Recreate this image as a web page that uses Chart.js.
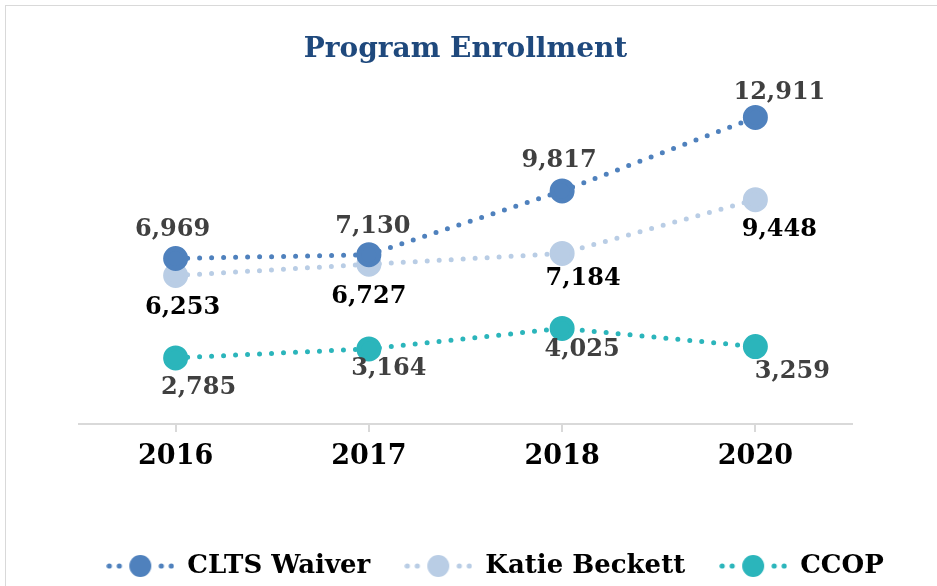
<!DOCTYPE html>
<html>
<head>
<meta charset="utf-8">
<script src="https://cdn.jsdelivr.net/npm/chart.js@4.4.0/dist/chart.umd.min.js"></script>
<style>
  html, body { margin: 0; padding: 0; background: #fff; }
  #wrap { position: relative; width: 937px; height: 586px; overflow: hidden; }
  #frame { position: absolute; left: 5px; top: 5px; width: 940px; height: 590px; border: 1px solid #d9d9d9; }
  canvas { position: absolute; left: 0; top: 0; }
</style>
</head>
<body>
<div id="wrap"><div id="frame"></div><canvas id="enrollChart" width="937" height="586"></canvas></div>
<script>
const years = ['2016', '2017', '2018', '2020'];
const cltsWaiver = [6969, 7130, 9817, 12911];
const katieBeckett = [6253, 6727, 7184, 9448];
const ccop = [2785, 3164, 4025, 3259];

// where each value label sits relative to its point (dx, dy)
const cltsLabelPos = [[-3, -29], [4, -28], [-3, -30], [24, -25]];
const katieLabelPos = [[7, 32], [0, 32], [21, 25], [24, 30]];
const ccopLabelPos = [[23, 30], [20, 20], [20, 21], [37, 25]];

const serif = '"DejaVu Serif", serif';

function legendMarker(color) {
    const c = document.createElement('canvas');
    c.width = 68;
    c.height = 24;
    const g = c.getContext('2d');
    g.fillStyle = color;
    [3, 13, 55, 65].forEach(x => {
        g.beginPath();
        g.arc(x, 12, 2.6, 0, Math.PI * 2);
        g.fill();
    });
    g.beginPath();
    g.arc(34, 12, 11, 0, Math.PI * 2);
    g.fill();
    return c;
}

const valueLabels = {
    id: 'valueLabels',
    afterDatasetsDraw(chart) {
        const ctx = chart.ctx;
        ctx.save();
        ctx.font = 'bold 24px ' + serif;
        ctx.textAlign = 'center';
        ctx.textBaseline = 'middle';
        chart.data.datasets.forEach((ds, i) => {
            const meta = chart.getDatasetMeta(i);
            meta.data.forEach((pt, j) => {
                const off = ds.labelPos[j];
                ctx.fillStyle = ds.labelColor;
                ctx.fillText(ds.data[j].toLocaleString('en-US'), pt.x + off[0], pt.y + off[1]);
            });
        });
        ctx.restore();
    }
};

function lineSet(label, data, color, labelColor, labelPos) {
    return {
        label: label,
        data: data,
        borderColor: color,
        backgroundColor: color,
        pointBackgroundColor: color,
        pointBorderColor: color,
        borderWidth: 5,
        borderDash: [0, 12],
        borderCapStyle: 'round',
        pointRadius: 10,
        pointHoverRadius: 10,
        fill: false,
        tension: 0,
        labelColor: labelColor,
        labelPos: labelPos,
        marker: legendMarker(color)
    };
}

const ctx = document.getElementById('enrollChart').getContext('2d');
const chart = new Chart(ctx, {
    type: 'line',
    data: {
        labels: years,
        datasets: [
            lineSet('CLTS Waiver', cltsWaiver, '#4f81bd', '#404040', cltsLabelPos),
            lineSet('Katie Beckett', katieBeckett, '#b9cde5', '#000000', katieLabelPos),
            lineSet('CCOP', ccop, '#2bb5bb', '#404040', ccopLabelPos)
        ]
    },
    options: {
        responsive: false,
        animation: false,
        layout: {
            padding: { left: 53, right: 0, top: 0, bottom: -3 }
        },
        plugins: {
            title: {
                display: true,
                fullSize: false,
                text: 'Program Enrollment',
                color: '#1f497d',
                font: { family: serif, size: 28, weight: 'bold' },
                padding: { top: 33, bottom: 25 }
            },
            legend: {
                position: 'bottom',
                labels: {
                    color: '#000000',
                    font: { family: serif, size: 26, weight: 'bold' },
                    usePointStyle: true,
                    pointStyleWidth: 68,
                    padding: 34,
                    generateLabels(chart) {
                        const items = Chart.defaults.plugins.legend.labels.generateLabels(chart);
                        items.forEach((it, i) => {
                            it.pointStyle = chart.data.datasets[i].marker;
                        });
                        return items;
                    }
                }
            },
            tooltip: { enabled: false }
        },
        scales: {
            x: {
                offset: true,
                afterFit(scale) {
                    scale.height = 95;
                },
                grid: {
                    offset: false,
                    drawOnChartArea: false,
                    drawTicks: true,
                    tickLength: 8,
                    color: '#d9d9d9',
                    lineWidth: 2
                },
                border: { color: '#d9d9d9', width: 2 },
                ticks: {
                    color: '#000000',
                    padding: 9,
                    font: { family: serif, size: 27, weight: 'bold' }
                }
            },
            y: {
                min: 0,
                max: 14000,
                afterFit(scale) {
                    scale.width = 26;
                },
                grid: { display: false },
                border: { display: false },
                ticks: { display: false }
            },
            yRight: {
                position: 'right',
                min: 0,
                max: 14000,
                afterFit(scale) {
                    scale.width = 85;
                },
                grid: { display: false },
                border: { display: false },
                ticks: { display: false }
            }
        }
    },
    plugins: [valueLabels]
});
</script>
</body>
</html>
